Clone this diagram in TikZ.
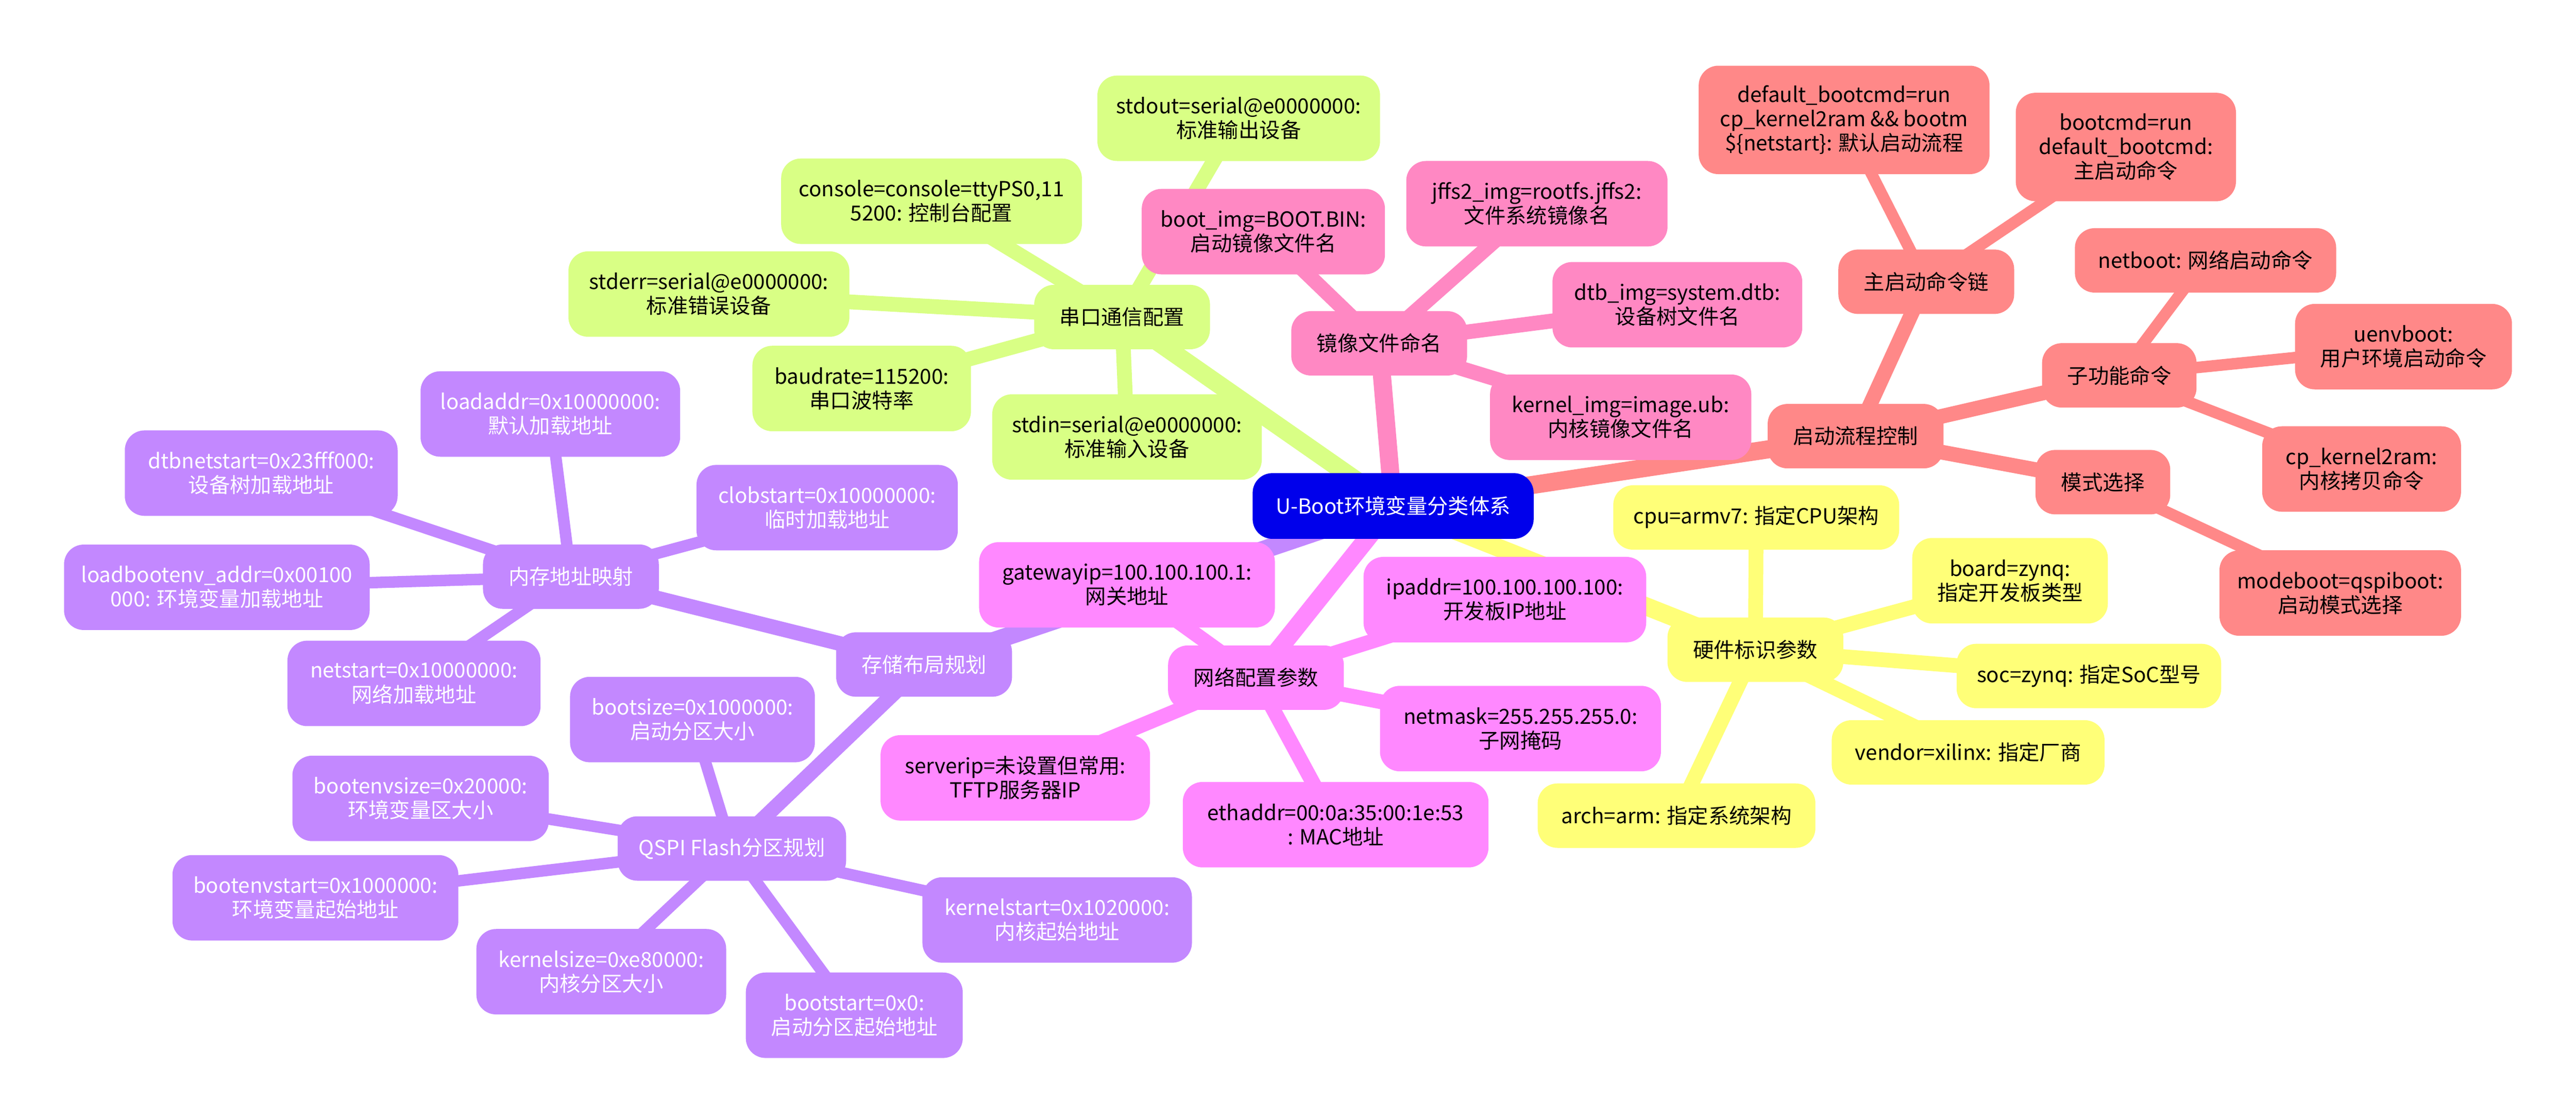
\documentclass[tikz,border=0pt]{standalone}
\usepackage{fontspec}
\setmainfont{Noto Sans CJK SC}
\usetikzlibrary{backgrounds}

\definecolor{rootblue}{RGB}{0,0,235}
\definecolor{storecol}{RGB}{195,136,255}
\definecolor{netcol}{RGB}{255,136,255}
\definecolor{hwcol}{RGB}{255,255,120}
\definecolor{serialcol}{RGB}{217,255,133}
\definecolor{imgcol}{RGB}{255,136,195}
\definecolor{bootcol}{RGB}{255,136,136}

\tikzset{
    topic/.style={rounded corners=0.3cm, align=center, inner xsep=0.15cm, inner ysep=0.05cm, font=\fontsize{9pt}{10.5pt}\selectfont},
    oneline/.style={topic, minimum height=0.98cm},
    twoline/.style={topic, minimum height=1.3cm},
    threeline/.style={topic, minimum height=1.65cm},
    rootbox/.style={fill=rootblue, text=white},
    storebox/.style={fill=storecol, text=white},
    netbox/.style={fill=netcol},
    hwbox/.style={fill=hwcol},
    serialbox/.style={fill=serialcol},
    imgbox/.style={fill=imgcol},
    bootbox/.style={fill=bootcol},
    rootedge/.style={line width=0.275cm},
    midedge/.style={line width=0.225cm},
    leafedge/.style={line width=0.175cm}
}

\begin{document}
\begin{tikzpicture}[x=0.025cm, y=-0.025cm]
        \useasboundingbox (0,0) rectangle (1568,681.7);
        \node[oneline, rootbox, minimum width=4.275cm, minimum height=1cm] (root) at (848,308) {U-Boot环境变量分类体系};

        \node[oneline, serialbox, minimum width=2.675cm] (serial) at (683,193) {串口通信配置};
        \node[twoline, serialbox, minimum width=4.3cm] (stdout) at (754,72) {stdout=serial@e0000000:\\标准输出设备};
        \node[twoline, serialbox, minimum width=4.575cm] (console) at (567,122.5) {console=console=ttyPS0,11\\5200: 控制台配置};
        \node[twoline, serialbox, minimum width=4.275cm] (stderr) at (431.5,179) {stderr=serial@e0000000:\\标准错误设备};
        \node[twoline, serialbox, minimum width=3.325cm] (baudrate) at (524.5,236.5) {baudrate=115200:\\串口波特率};
        \node[twoline, serialbox, minimum width=4.1cm] (stdin) at (686,266) {stdin=serial@e0000000:\\标准输入设备};

        \node[oneline, imgbox, minimum width=2.675cm] (image) at (839.5,209) {镜像文件命名};
        \node[twoline, imgbox, minimum width=3.7cm] (bootimg) at (769,141) {boot\_img=BOOT.BIN:\\启动镜像文件名};
        \node[twoline, imgbox, minimum width=3.975cm] (jffsimg) at (935.5,124) {jffs2\_img=rootfs.jffs2:\\文件系统镜像名};
        \node[twoline, imgbox, minimum width=3.8cm] (dtbimg) at (1021,185.5) {dtb\_img=system.dtb:\\设备树文件名};
        \node[twoline, imgbox, minimum width=3.975cm] (kernelimg) at (986.5,254) {kernel\_img=image.ub:\\内核镜像文件名};

        \node[oneline, bootbox, minimum width=2.675cm] (bootflow) at (1129.5,265.5) {启动流程控制};
        \node[oneline, bootbox, minimum width=2.675cm] (mainchain) at (1172.5,171.5) {主启动命令链};
        \node[threeline, bootbox, minimum width=4.425cm] (defaultcmd) at (1122.5,73) {default\_bootcmd=run\\cp\_kernel2ram \&\& bootm\\\$\{netstart\}: 默认启动流程};
        \node[threeline, bootbox, minimum width=3.35cm] (bootcmd) at (1294,89.5) {bootcmd=run\\default\_bootcmd:\\主启动命令};
        \node[oneline, bootbox, minimum width=2.35cm] (subcmd) at (1290,228.5) {子功能命令};
        \node[oneline, bootbox, minimum width=3.975cm] (netboot) at (1342.5,158.5) {netboot: 网络启动命令};
        \node[twoline, bootbox, minimum width=3.3cm] (uenvboot) at (1463,211) {uenvboot:\\用户环境启动命令};
        \node[twoline, bootbox, minimum width=3.025cm] (kernelram) at (1437.5,285.5) {cp\_kernel2ram:\\内核拷贝命令};
        \node[oneline, bootbox, minimum width=2.05cm] (modesel) at (1280,293.5) {模式选择};
        \node[twoline, bootbox, minimum width=3.675cm] (modeboot) at (1424.5,361) {modeboot=qspiboot:\\启动模式选择};

        \node[oneline, hwbox, minimum width=2.675cm] (hardware) at (1068.5,395.5) {硬件标识参数};
        \node[oneline, hwbox, minimum width=4.35cm] (cpu) at (1069,315) {cpu=armv7: 指定CPU架构};
        \node[twoline, hwbox, minimum width=2.975cm] (board) at (1223.5,353.5) {board=zynq:\\指定开发板类型};
        \node[oneline, hwbox, minimum width=4.025cm] (soc) at (1271.5,411.5) {soc=zynq: 指定SoC型号};
        \node[oneline, hwbox, minimum width=4.15cm] (vendor) at (1198,458) {vendor=xilinx: 指定厂商};
        \node[oneline, hwbox, minimum width=4.225cm] (arch) at (1020.5,496.5) {arch=arm: 指定系统架构};

        \node[oneline, netbox, minimum width=2.675cm] (network) at (764.5,412.5) {网络配置参数};
        \node[twoline, netbox, minimum width=4.5cm] (gateway) at (686,356) {gatewayip=100.100.100.1:\\网关地址};
        \node[twoline, netbox, minimum width=4.3cm] (ipaddr) at (916,365) {ipaddr=100.100.100.100:\\开发板IP地址};
        \node[twoline, netbox, minimum width=4.275cm] (netmask) at (925.5,443.5) {netmask=255.255.255.0:\\子网掩码};
        \node[twoline, netbox, minimum width=4.1cm] (serverip) at (618,473.5) {serverip=未设置但常用:\\TFTP服务器IP};
        \node[twoline, netbox, minimum width=4.65cm] (ethaddr) at (813,502) {ethaddr=00:0a:35:00:1e:53\\: MAC地址};

        \node[oneline, storebox, minimum width=2.675cm] (storage) at (562.5,404.5) {存储布局规划};
        \node[oneline, storebox, minimum width=2.675cm] (memmap) at (347.5,351) {内存地址映射};
        \node[twoline, storebox, minimum width=3.95cm] (loadaddr) at (335,252) {loadaddr=0x10000000:\\默认加载地址};
        \node[twoline, storebox, minimum width=4.15cm] (dtbnet) at (159,288) {dtbnetstart=0x23fff000:\\设备树加载地址};
        \node[twoline, storebox, minimum width=3.975cm] (clobstart) at (503.5,309) {clobstart=0x10000000:\\临时加载地址};
        \node[twoline, storebox, minimum width=4.65cm] (loadenv) at (132,357.5) {loadbootenv\_addr=0x00100\\000: 环境变量加载地址};
        \node[twoline, storebox, minimum width=3.85cm] (netstart) at (252,416) {netstart=0x10000000:\\网络加载地址};
        \node[oneline, storebox, minimum width=3.475cm] (qspi) at (445.5,516.5) {QSPI Flash分区规划};
        \node[twoline, storebox, minimum width=3.725cm] (bootsize) at (421.5,438) {bootsize=0x1000000:\\启动分区大小};
        \node[twoline, storebox, minimum width=3.9cm] (envsize) at (256,486) {bootenvsize=0x20000:\\环境变量区大小};
        \node[twoline, storebox, minimum width=4.35cm] (envstart) at (192,546.5) {bootenvstart=0x1000000:\\环境变量起始地址};
        \node[twoline, storebox, minimum width=3.8cm] (kernelsize) at (366,591.5) {kernelsize=0xe80000:\\内核分区大小};
        \node[twoline, storebox, minimum width=3.3cm] (bootstart) at (520,618) {bootstart=0x0:\\启动分区起始地址};
        \node[twoline, storebox, minimum width=4.1cm] (kernelstart) at (643.5,560) {kernelstart=0x1020000:\\内核起始地址};

        \begin{scope}[on background layer]
        \draw[rootedge, storecol] (root.center) -- (storage.center);
        \draw[rootedge, netcol] (root.center) -- (network.center);
        \draw[rootedge, hwcol] (root.center) -- (hardware.center);
        \draw[rootedge, serialcol] (root.center) -- (serial.center);
        \draw[rootedge, imgcol] (root.center) -- (image.center);
        \draw[rootedge, bootcol] (root.center) -- (bootflow.center);

        \draw[midedge, storecol] (storage.center) -- (memmap.center) (storage.center) -- (qspi.center);
        \draw[leafedge, storecol] (memmap.center) -- (loadaddr.center) (memmap.center) -- (dtbnet.center) (memmap.center) -- (clobstart.center) (memmap.center) -- (loadenv.center) (memmap.center) -- (netstart.center);
        \draw[leafedge, storecol] (qspi.center) -- (bootsize.center) (qspi.center) -- (envsize.center) (qspi.center) -- (envstart.center) (qspi.center) -- (kernelsize.center) (qspi.center) -- (bootstart.center) (qspi.center) -- (kernelstart.center);

        \draw[midedge, netcol] (network.center) -- (gateway.center) (network.center) -- (ipaddr.center) (network.center) -- (netmask.center) (network.center) -- (serverip.center) (network.center) -- (ethaddr.center);
        \draw[midedge, hwcol] (hardware.center) -- (cpu.center) (hardware.center) -- (board.center) (hardware.center) -- (soc.center) (hardware.center) -- (vendor.center) (hardware.center) -- (arch.center);
        \draw[midedge, serialcol] (serial.center) -- (stdout.center) (serial.center) -- (console.center) (serial.center) -- (stderr.center) (serial.center) -- (baudrate.center) (serial.center) -- (stdin.center);
        \draw[midedge, imgcol] (image.center) -- (bootimg.center) (image.center) -- (jffsimg.center) (image.center) -- (dtbimg.center) (image.center) -- (kernelimg.center);

        \draw[midedge, bootcol] (bootflow.center) -- (mainchain.center) (bootflow.center) -- (subcmd.center) (bootflow.center) -- (modesel.center);
        \draw[leafedge, bootcol] (mainchain.center) -- (defaultcmd.center) (mainchain.center) -- (bootcmd.center);
        \draw[leafedge, bootcol] (subcmd.center) -- (netboot.center) (subcmd.center) -- (uenvboot.center) (subcmd.center) -- (kernelram.center);
        \draw[leafedge, bootcol] (modesel.center) -- (modeboot.center);
        \end{scope}
    \end{tikzpicture}
\end{document}
